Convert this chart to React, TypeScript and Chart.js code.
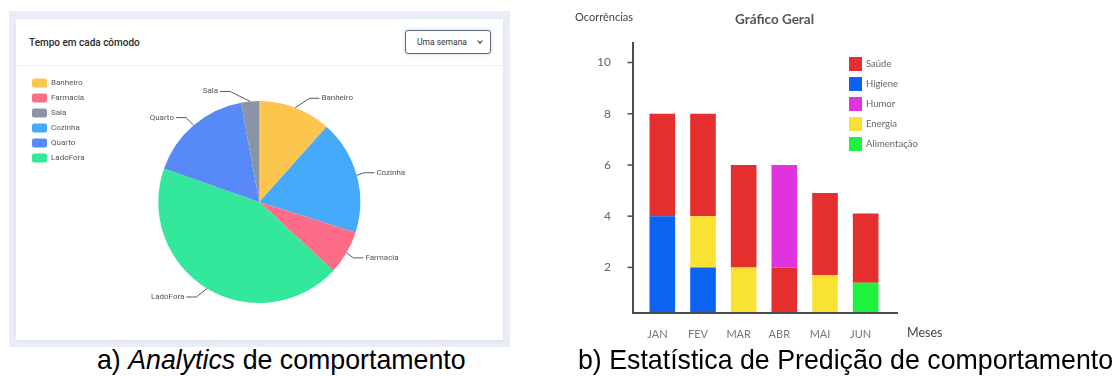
import React, { useEffect, useRef } from 'react';
import { Chart, registerables } from 'chart.js';

Chart.register(...registerables);

// ---------- Data: pie (a) ----------
const pieLabels = ['Banheiro', 'Cozinha', 'Farmacia', 'LadoFora', 'Quarto', 'Sala'];
const pieValues = [11.6, 18.3, 7.0, 43.5, 16.7, 2.9];
const pieColors = ['#FCC64E', '#45AAFA', '#FE6D88', '#33E79B', '#5789F7', '#8994A8'];
const pieLegendOrder = ['Banheiro', 'Farmacia', 'Sala', 'Cozinha', 'Quarto', 'LadoFora'];

// ---------- Data: stacked bars (b) ----------
const months = ['JAN', 'FEV', 'MAR', 'ABR', 'MAI', 'JUN'];
const higiene = [4, 2, 0, 0, 0, 0];
const energia = [0, 2, 2, 0, 1.7, 0];
const alimentacao = [0, 0, 0, 0, 0, 1.4];
const saude = [4, 4, 4, 2, 3.2, 2.7];
const humor = [0, 0, 0, 4, 0, 0];
const yTicks = [2, 4, 6, 8, 10];
const barLegendOrder = ['Saúde', 'Higiene', 'Humor', 'Energia', 'Alimentação'];

const barTitle = 'Gráfico Geral';
const yTitle = 'Ocorrências';
const xTitle = 'Meses';

function PieChart() {
  const ref = useRef<HTMLCanvasElement>(null);
  useEffect(() => {
    const labelPlugin = {
      id: 'pieOutLabels',
      afterDatasetsDraw(chart: any) {
        const ctx = chart.ctx;
        const meta = chart.getDatasetMeta(0);
        ctx.save();
        ctx.strokeStyle = '#5a5a5a';
        ctx.lineWidth = 1;
        ctx.fillStyle = '#555';
        ctx.font = '8px Roboto';
        ctx.textBaseline = 'middle';
        meta.data.forEach((arc: any, i: number) => {
          const { x, y, startAngle, endAngle, outerRadius } = arc.getProps(
            ['x', 'y', 'startAngle', 'endAngle', 'outerRadius'],
            true
          );
          const mid = (startAngle + endAngle) / 2;
          const c = Math.cos(mid);
          const s = Math.sin(mid);
          const dir = c >= 0 ? 1 : -1;
          const x0 = x + c * outerRadius;
          const y0 = y + s * outerRadius;
          const x1 = x0 + dir * Math.max(Math.abs(c) * 8, (1 - Math.abs(c)) * 22);
          const y1 = y0 + s * 10;
          const x2 = x1 + dir * 10;
          ctx.beginPath();
          ctx.moveTo(x0, y0);
          ctx.lineTo(x1, y1);
          ctx.lineTo(x2, y1);
          ctx.stroke();
          ctx.textAlign = dir > 0 ? 'left' : 'right';
          ctx.fillText(chart.data.labels[i], x2 + dir * 2, y1);
        });
        ctx.restore();
      },
    };
    const chart = new Chart(ref.current as HTMLCanvasElement, {
      type: 'pie',
      data: {
        labels: pieLabels,
        datasets: [
          {
            data: pieValues,
            backgroundColor: pieColors,
            borderWidth: 0,
          },
        ],
      },
      options: {
        animation: false,
        responsive: false,
        radius: 101,
        layout: { padding: { left: 10, top: 6.5, bottom: 6.5, right: 79 } },
        plugins: {
          legend: {
            position: 'left',
            align: 'start',
            labels: {
              boxWidth: 15,
              boxHeight: 9,
              padding: 6,
              color: '#555',
              font: { family: 'Roboto', size: 8 },
              useBorderRadius: true,
              borderRadius: 2,
              sort: (a: any, b: any) =>
                pieLegendOrder.indexOf(a.text) - pieLegendOrder.indexOf(b.text),
            },
          },
          tooltip: { enabled: false },
        },
      } as any,
      plugins: [labelPlugin],
    });
    return () => chart.destroy();
  }, []);
  return (
    <canvas
      ref={ref}
      width={487}
      height={272}
      style={{ position: 'absolute', left: 0, top: 47, display: 'block' }}
    />
  );
}

function BarChart() {
  const ref = useRef<HTMLCanvasElement>(null);
  useEffect(() => {
    const decor = {
      id: 'barDecor',
      afterDraw(chart: any) {
        const { ctx, chartArea: ca, scales } = chart;
        const axisX = ca.left - 9;
        ctx.save();
        ctx.strokeStyle = '#4d4d4d';
        ctx.lineWidth = 2;
        ctx.beginPath();
        ctx.moveTo(axisX, ca.top);
        ctx.lineTo(axisX, ca.bottom);
        ctx.lineTo(ca.right + 12, ca.bottom);
        ctx.stroke();
        ctx.lineWidth = 1.5;
        yTicks.forEach((v) => {
          const py = scales.y.getPixelForValue(v);
          ctx.beginPath();
          ctx.moveTo(axisX - 5.5, py);
          ctx.lineTo(axisX, py);
          ctx.stroke();
        });
        ctx.textBaseline = 'middle';
        ctx.fillStyle = '#444';
        ctx.font = '11px Lato';
        ctx.textAlign = 'right';
        ctx.fillText(yTitle, axisX, ca.top - 25);
        ctx.fillStyle = '#555';
        ctx.font = 'bold 13.5px Lato';
        ctx.textAlign = 'center';
        ctx.fillText(barTitle, ca.left + 132.5, ca.top - 22);
        ctx.fillStyle = '#444';
        ctx.font = '12.5px Lato';
        ctx.textAlign = 'left';
        ctx.fillText(xTitle, ca.right + 21, ca.bottom + 20);
        // legend
        ctx.font = '9.5px Lato';
        barLegendOrder.forEach((name, i) => {
          const ds = chart.data.datasets.find((d: any) => d.label === name);
          const bx = ca.right - 37;
          const by = ca.top + 15 + i * 20;
          ctx.fillStyle = ds.backgroundColor;
          ctx.fillRect(bx, by, 13, 14);
          ctx.fillStyle = '#666';
          ctx.fillText(name, bx + 17, by + 7);
        });
        ctx.restore();
      },
    };
    const chart = new Chart(ref.current as HTMLCanvasElement, {
      type: 'bar',
      data: {
        labels: months,
        datasets: [
          { label: 'Higiene', data: higiene, backgroundColor: '#0B63F0' },
          { label: 'Energia', data: energia, backgroundColor: '#FAE232' },
          { label: 'Alimentação', data: alimentacao, backgroundColor: '#1DF23C' },
          { label: 'Saúde', data: saude, backgroundColor: '#E52E2E' },
          { label: 'Humor', data: humor, backgroundColor: '#E033E0' },
        ],
      },
      options: {
        animation: false,
        responsive: false,
        layout: { padding: { left: 62, right: 227, top: 42, bottom: 0 } },
        datasets: { bar: { categoryPercentage: 1, barPercentage: 0.63, borderWidth: 0 } },
        scales: {
          x: {
            stacked: true,
            grid: { display: false, drawTicks: false },
            border: { display: false },
            ticks: {
              color: '#777',
              font: { family: 'Lato', size: 11 },
              padding: 15,
              labelOffset: -5,
            },
            afterFit: (s: any) => {
              s.height = 32;
              s.paddingLeft = 0;
              s.paddingRight = 0;
            },
          },
          y: {
            stacked: true,
            min: 0.22,
            max: 10.8,
            grid: { display: false, drawTicks: false },
            border: { display: false },
            afterBuildTicks: (s: any) => {
              s.ticks = yTicks.map((v) => ({ value: v }));
            },
            ticks: {
              color: '#666',
              font: { family: 'Lato', size: 12 },
              padding: 31,
            },
            afterFit: (s: any) => {
              s.width = 50;
              s.paddingTop = 0;
              s.paddingBottom = 0;
            },
          },
        },
        plugins: {
          legend: { display: false },
          tooltip: { enabled: false },
        },
      } as any,
      plugins: [decor],
    });
    return () => chart.destroy();
  }, []);
  return (
    <canvas
      ref={ref}
      width={583}
      height={345}
      style={{ position: 'absolute', left: 530, top: 0, display: 'block' }}
    />
  );
}

export default function App() {
  const captionStyle: React.CSSProperties = {
    position: 'absolute',
    top: 346,
    fontFamily: '"Liberation Sans", Arial, sans-serif',
    fontSize: 28,
    lineHeight: '28px',
    color: '#000',
    whiteSpace: 'nowrap',
    transform: 'scaleX(0.955)',
    transformOrigin: 'left top',
  };
  return (
    <div
      style={{
        position: 'absolute',
        left: 0,
        top: 0,
        width: 1113,
        height: 376,
        background: '#fff',
        overflow: 'hidden',
        fontFamily: 'Roboto, sans-serif',
      }}
    >
      <div
        style={{
          position: 'absolute',
          left: 9,
          top: 11,
          width: 501,
          height: 336,
          background: '#E9EDF5',
        }}
      />
      <div
        style={{
          position: 'absolute',
          left: 16,
          top: 19,
          width: 487,
          height: 321,
          background: '#fff',
          boxShadow: '0 1px 3px rgba(60,70,100,0.08)',
        }}
      >
        <div
          style={{
            position: 'absolute',
            left: 13,
            top: 17,
            fontSize: 10,
            fontWeight: 500,
            color: '#2d2d2d',
            lineHeight: '14px',
            whiteSpace: 'nowrap',
          }}
        >
          Tempo em cada cômodo
        </div>
        <div
          style={{
            position: 'absolute',
            left: 389,
            top: 11,
            width: 86,
            height: 24,
            boxSizing: 'border-box',
            border: '1px solid #5C6784',
            borderRadius: 3,
            boxShadow: '0 0 4px rgba(80,100,160,0.25)',
            background: '#fff',
          }}
        >
          <span
            style={{
              position: 'absolute',
              left: 11,
              top: 5,
              fontSize: 8.5,
              lineHeight: '12px',
              color: '#333',
              whiteSpace: 'nowrap',
            }}
          >
            Uma semana
          </span>
          <span
            style={{
              position: 'absolute',
              left: 72,
              top: 7.5,
              width: 3,
              height: 3,
              borderRight: '1.2px solid #333',
              borderBottom: '1.2px solid #333',
              transform: 'rotate(45deg)',
            }}
          />
        </div>
        <div
          style={{
            position: 'absolute',
            left: 0,
            top: 46,
            width: 487,
            height: 1,
            background: '#EEF0F4',
          }}
        />
        <PieChart />
      </div>
      <BarChart />
      <div style={{ ...captionStyle, left: 97 }}>
        a) <i>Analytics</i> de comportamento
      </div>
      <div style={{ ...captionStyle, left: 578 }}>
        b) Estatística de Predição de comportamento
      </div>
    </div>
  );
}
